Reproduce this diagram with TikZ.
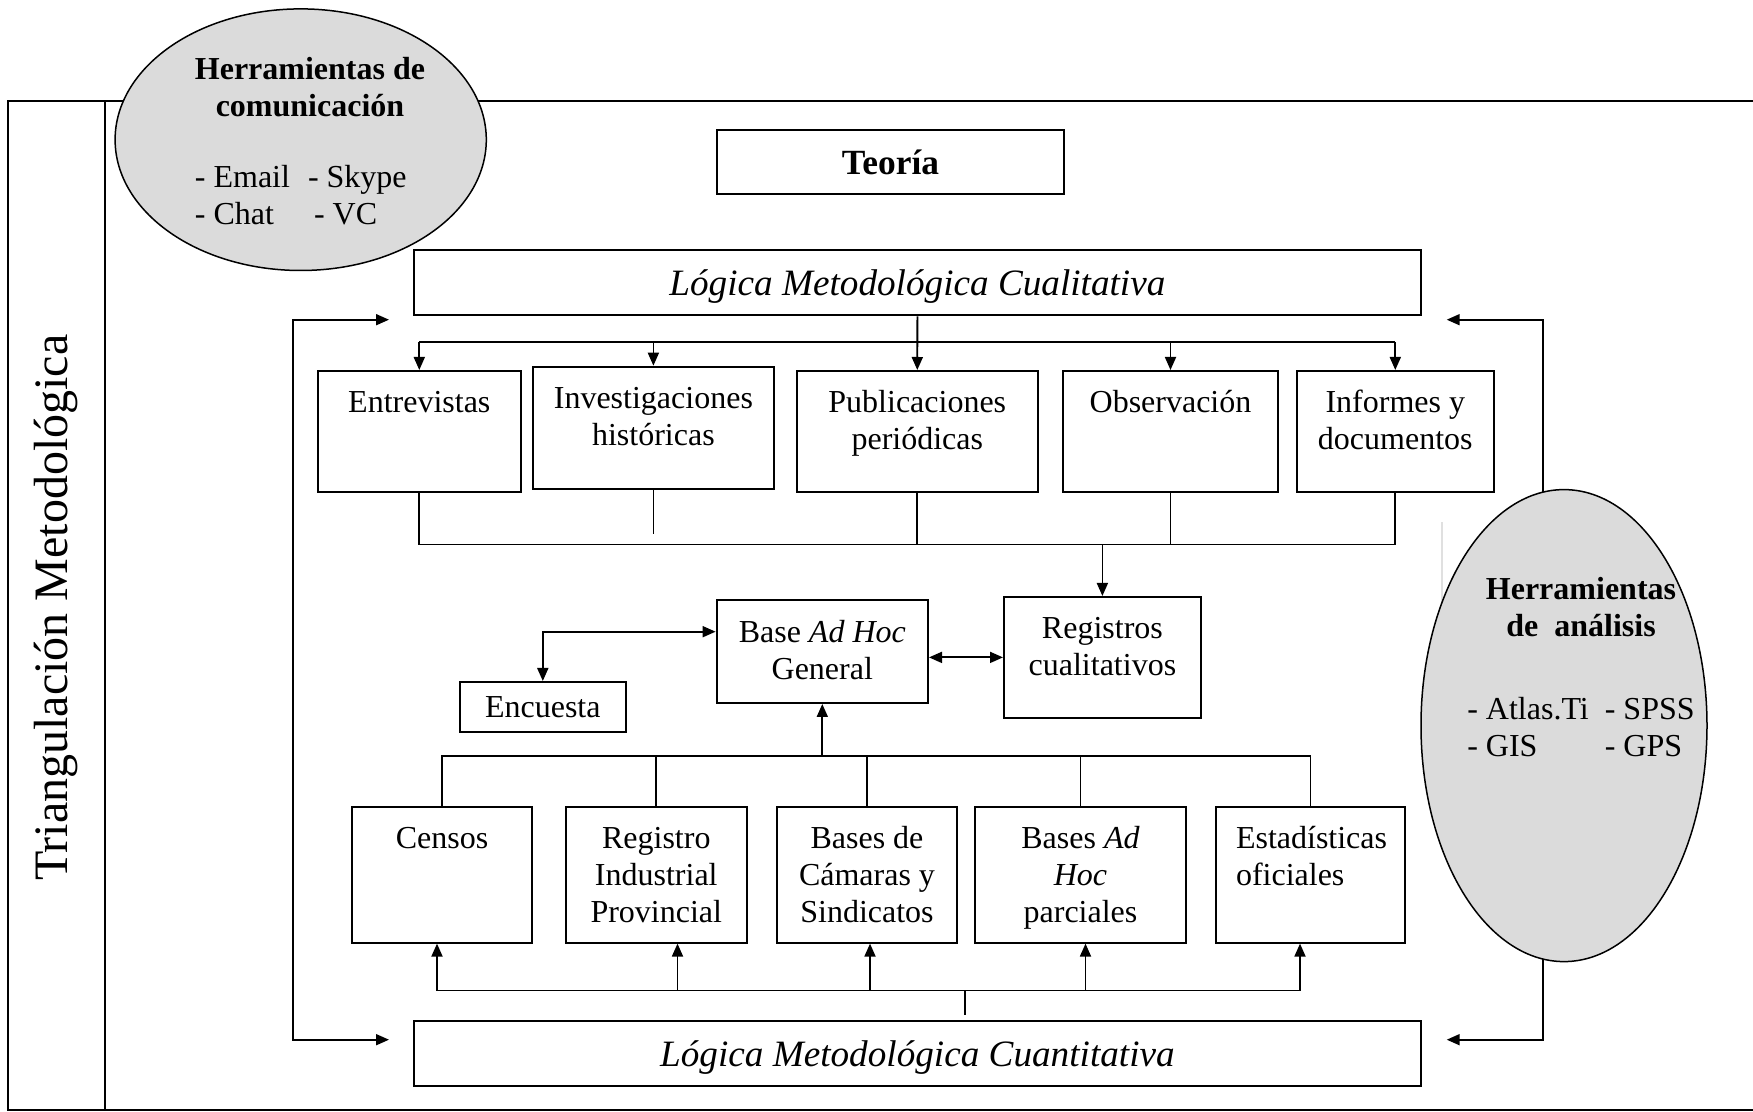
\documentclass[tikz,border=0pt]{standalone}
\usepackage{fontspec}
\setmainfont{Liberation Serif}
\usetikzlibrary{arrows.meta,shapes.geometric,calc}
\newcommand\tbx[4]{\parbox[c][#2][t]{#1}{#3\rule{0pt}{21pt}#4\par}}
\begin{document}
\begin{tikzpicture}[x=0.5pt,y=-0.5pt,
 box/.style={draw,line width=1pt,inner sep=0pt,fill=white,font=\fontsize{16}{18.5}\selectfont},
 conn/.style={line width=0.9pt},
 arr/.style={conn,-{Triangle[length=6.5pt,width=5.5pt]}},
 darr/.style={conn,{Triangle[length=6.5pt,width=5.5pt]}-{Triangle[length=6.5pt,width=5.5pt]}},
 ell/.style={draw,line width=0.75pt,fill=black!14,ellipse,inner sep=0pt}]
\useasboundingbox (0,0) rectangle (1753,1112);
% frame
\draw[line width=1pt] (1753,101) -- (7.8,101) -- (7.8,1109.5) -- (1753,1109.5);
\draw[line width=1pt] (105,101) -- (105,1109.5);
\node[rotate=90,font=\fontsize{24}{28}\selectfont] (tri) at (56,607.6) {Triangulación Metodológica};
% main boxes
\node[box,minimum width=173.9pt,minimum height=32.4pt,text depth=0pt,font=\fontsize{17.7}{21}\selectfont\bfseries] (teoria) at (890.5,162.1) {Teoría};
\node[box,minimum width=503.7pt,minimum height=32.4pt,text depth=0pt,font=\fontsize{18.6}{22}\selectfont\itshape] (cual) at (917.4,282.9) {Lógica Metodológica Cualitativa};
\node[box,minimum width=503.7pt,minimum height=32.4pt,text depth=0pt,font=\fontsize{18.6}{22}\selectfont\itshape] (cuant) at (917.4,1053.2) {Lógica Metodológica Cuantitativa};
% row 1
\node[box] (entrev) at (419.3,431.5) {\tbx{101.8pt}{60.5pt}{\centering}{Entrevistas}};
\node[box] (invest) at (653.4,427.7) {\tbx{120.4pt}{61pt}{\centering}{Investigaciones\\históricas}};
\node[box] (public) at (917.3,431.5) {\tbx{120.3pt}{60.5pt}{\centering}{Publicaciones\\periódicas}};
\node[box] (observ) at (1170.5,431.5) {\tbx{107.5pt}{60.5pt}{\centering}{Observación}};
\node[box] (inform) at (1395.3,431.5) {\tbx{98.3pt}{60.5pt}{\centering}{Informes y\\documentos}};
% middle
\node[box] (regist) at (1102.4,657.4) {\tbx{98.4pt}{60.4pt}{\centering}{Registros\\cualitativos}};
\node[box] (base) at (822.3,651.7) {\tbx{105.7pt}{51.3pt}{\centering}{Base \textit{Ad Hoc}\\General}};
\node[box,minimum width=83.3pt,minimum height=25pt] (encuesta) at (542.8,707) {Encuesta};
% row 2
\node[box] (censos) at (442,874.8) {\tbx{90pt}{67.8pt}{\centering}{Censos}};
\node[box] (registro) at (656.3,874.8) {\tbx{90.6pt}{67.8pt}{\centering}{Registro\\Industrial\\Provincial}};
\node[box] (camaras) at (867,874.8) {\tbx{90pt}{67.8pt}{\centering}{Bases de\\Cámaras y\\Sindicatos}};
\node[box] (adhoc) at (1080.5,874.8) {\tbx{105.5pt}{67.8pt}{\centering}{Bases \textit{Ad}\\\textit{Hoc}\\parciales}};
\node[box] (estad) at (1310.5,874.8) {\tbx{94.5pt}{67.8pt}{\leftskip=10pt\rightskip=0pt plus 1fil}{Estadísticas\\oficiales}};
% bus coordinates
\coordinate (busA) at (0,342);
\coordinate (busB) at (0,544.5);
\coordinate (busC) at (0,755.8);
\coordinate (busD) at (0,990.5);
% top distribution
\draw[conn] (entrev.north |- busA) -- (inform.north |- busA);
\draw[arr] (cual.south) -- (public.north);
\foreach \n in {entrev,invest,observ,inform} \draw[arr] (\n.north |- busA) -- (\n.north);
% row1 collection
\draw[conn] (entrev.south) -- (entrev.south |- busB) -- (inform.south |- busB) -- (inform.south);
\draw[conn] (public.south) -- (public.south |- busB);
\draw[conn] (observ.south) -- (observ.south |- busB);
\coordinate (investEnd) at (653.4,534);
\draw[conn] (invest.south) -- (investEnd);
\draw[arr] (regist.north |- busB) -- (regist.north);
% middle links
\draw[darr] (base.east |- regist.west) -- (regist.west);
\coordinate (encY) at (0,631.7);
\draw[darr] (encuesta.north) |- (base.west |- encY);
% row2 top
\draw[conn] (censos.north) -- (censos.north |- busC) -- (estad.north |- busC) -- (estad.north);
\foreach \n in {registro,camaras,adhoc} \draw[conn] (\n.north) -- (\n.north |- busC);
\draw[arr] (base.south |- busC) -- (base.south);
% row2 bottom
\coordinate (c1) at ([xshift=-2.5pt]censos.south);
\coordinate (c2) at ([xshift=10.6pt]registro.south);
\coordinate (c3) at ([xshift=1.5pt]camaras.south);
\coordinate (c4) at ([xshift=2.5pt]adhoc.south);
\coordinate (c5) at ([xshift=-5.25pt]estad.south);
\draw[conn] (c1 |- busD) -- (c5 |- busD);
\foreach \c in {c1,c2,c3,c4,c5} \draw[arr] (\c |- busD) -- (\c);
\coordinate (stemT) at (965,990.5);
\coordinate (stemB) at (965,1015);
\draw[conn] (stemT) -- (stemB);
% loops
\coordinate (lT) at (292.9,319.7); \coordinate (lB) at (292.9,1039.7);
\coordinate (ltT) at (389,319.7); \coordinate (ltB) at (389,1039.7);
\draw[darr] (ltT) -- (lT) -- (lB) -- (ltB);
\coordinate (rT) at (1542.8,319.7); \coordinate (rB) at (1542.8,1039.7);
\coordinate (rtT) at (1446.7,319.7); \coordinate (rtB) at (1446.7,1039.7);
\draw[darr] (rtT) -- (rT) -- (rB) -- (rtB);
\draw[black!12,line width=0.8pt] (1442,522) -- (1442,794);
% ellipses
\node[ell,minimum width=185.6pt,minimum height=130.8pt] (comm) at (300.7,139.7) {};
\node[font=\fontsize{16}{18.5}\selectfont,inner sep=0pt] (commtxt) at (310,144.5) {\begin{tabular}{@{}l@{}}\multicolumn{1}{@{}c@{}}{\bfseries Herramientas de}\\\multicolumn{1}{@{}c@{}}{\bfseries comunicación}\\[17pt]- Email\hspace{9pt}- Skype\\- Chat\hspace{20pt}- VC\end{tabular}};
\node[ell,minimum width=143pt,minimum height=236pt] (anal) at (1564,725.6) {};
\node[font=\fontsize{16}{18.5}\selectfont,inner sep=0pt] (analtxt) at (1581,670.5) {\begin{tabular}{@{}l@{\hspace{8pt}}l@{}}\multicolumn{2}{@{}c@{}}{\bfseries Herramientas}\\\multicolumn{2}{@{}c@{}}{\bfseries de\ \ análisis}\\[23pt]- Atlas.Ti & - SPSS\\- GIS & - GPS\end{tabular}};
\end{tikzpicture}
\end{document}
